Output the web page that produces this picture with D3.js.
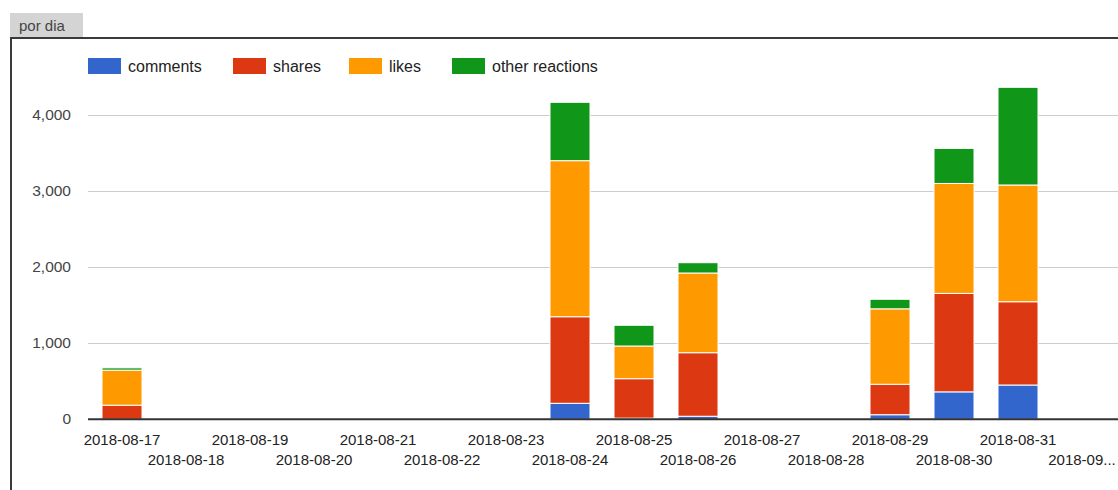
<!DOCTYPE html>
<html>
<head>
<meta charset="utf-8">
<script src="https://cdn.jsdelivr.net/npm/d3@7"></script>
<style>
  html, body { margin: 0; padding: 0; background: #fff; }
  svg { display: block; font-family: Arial, "Liberation Sans", sans-serif; }
</style>
</head>
<body>
<svg id="chart" width="1118" height="490"></svg>
<script>
// Daily engagement per post type
const days = ["2018-08-17","2018-08-18","2018-08-19","2018-08-20","2018-08-21","2018-08-22",
              "2018-08-23","2018-08-24","2018-08-25","2018-08-26","2018-08-27","2018-08-28",
              "2018-08-29","2018-08-30","2018-08-31","2018-09-01"];
const dayLabels = ["2018-08-17","2018-08-18","2018-08-19","2018-08-20","2018-08-21","2018-08-22",
                   "2018-08-23","2018-08-24","2018-08-25","2018-08-26","2018-08-27","2018-08-28",
                   "2018-08-29","2018-08-30","2018-08-31","2018-09..."];
const comments       = [0,   0,0,0,0,0,0, 210,  15,   40, 0,0,  60,  360,  450, 0];
const shares         = [185, 0,0,0,0,0,0, 1136, 518,  834, 0,0,  400, 1292, 1093, 0];
const likes          = [460, 0,0,0,0,0,0, 2048, 429,  1046,0,0,  990, 1443, 1532, 0];
const otherReactions = [30,  0,0,0,0,0,0, 766,  272,  135, 0,0,  125, 460,  1282, 0];
const seriesNames  = ["comments", "shares", "likes", "other reactions"];
const seriesColors = ["#3366cc", "#dc3912", "#ff9900", "#109618"];
const yTicks = [0, 1000, 2000, 3000, 4000];
const tabTitle = "por dia";

const rows = days.map((d, i) => ({
  day: d,
  "comments": comments[i],
  "shares": shares[i],
  "likes": likes[i],
  "other reactions": otherReactions[i]
}));

const svg = d3.select("#chart");

// Tab and frame
svg.append("rect").attr("x", 10).attr("y", 13).attr("width", 73).attr("height", 24)
  .attr("fill", "#d4d4d4");
svg.append("text").attr("x", 19).attr("y", 31).attr("font-size", 15).attr("fill", "#444")
  .text(tabTitle);
svg.append("line").attr("x1", 10).attr("x2", 1118).attr("y1", 38).attr("y2", 38)
  .attr("stroke", "#3a3a3a").attr("stroke-width", 2);
svg.append("line").attr("x1", 11).attr("x2", 11).attr("y1", 37).attr("y2", 490)
  .attr("stroke", "#3a3a3a").attr("stroke-width", 2);

// Scales
const x = d3.scaleBand().domain(days).range([90, 1114]).paddingInner(0.375).paddingOuter(0.1875);
const y = d3.scaleLinear().domain([0, 4000]).range([419.3, 114.5]);
const color = d3.scaleOrdinal().domain(seriesNames).range(seriesColors);

// Gridlines
svg.append("g").selectAll("line").data(yTicks.filter(t => t !== 0)).join("line")
  .attr("x1", 88).attr("x2", 1118)
  .attr("y1", d => Math.round(y(d)) + 0.5).attr("y2", d => Math.round(y(d)) + 0.5)
  .attr("stroke", "#cccccc").attr("stroke-width", 1);

// Y axis labels
const fmt = d3.format(",");
svg.append("g").selectAll("text").data(yTicks).join("text")
  .attr("x", 71).attr("y", d => y(d) + 5)
  .attr("text-anchor", "end").attr("font-size", 15.5).attr("fill", "#444")
  .text(d => fmt(d));

// Stacked bars
const stack = d3.stack().keys(seriesNames)(rows);
svg.append("g").selectAll("g").data(stack).join("g")
  .attr("fill", d => color(d.key))
  .selectAll("rect").data(d => d.filter(p => p[1] - p[0] > 0)).join("rect")
  .attr("x", p => x(p.data.day))
  .attr("width", x.bandwidth())
  .attr("y", p => y(p[1]))
  .attr("height", p => y(p[0]) - y(p[1]))
  .attr("stroke", "#ffffff").attr("stroke-width", 1);

// Baseline
svg.append("line").attr("x1", 88).attr("x2", 1118).attr("y1", y(0)).attr("y2", y(0))
  .attr("stroke", "#333").attr("stroke-width", 2);

// X axis labels, staggered on two rows
svg.append("g").selectAll("text").data(days).join("text")
  .attr("x", d => x(d) + x.bandwidth() / 2)
  .attr("y", (d, i) => i % 2 === 0 ? 445 : 465)
  .attr("text-anchor", "middle").attr("font-size", 15).attr("fill", "#222")
  .text((d, i) => dayLabels[i]);

// Legend
const legendX = [88, 233, 349, 452];
const lg = svg.append("g").selectAll("g").data(seriesNames).join("g")
  .attr("transform", (d, i) => `translate(${legendX[i]},58)`);
lg.append("rect").attr("width", 33).attr("height", 16).attr("fill", d => color(d));
lg.append("text").attr("x", 40).attr("y", 14).attr("font-size", 16).attr("fill", "#222")
  .text(d => d);
</script>
</body>
</html>
